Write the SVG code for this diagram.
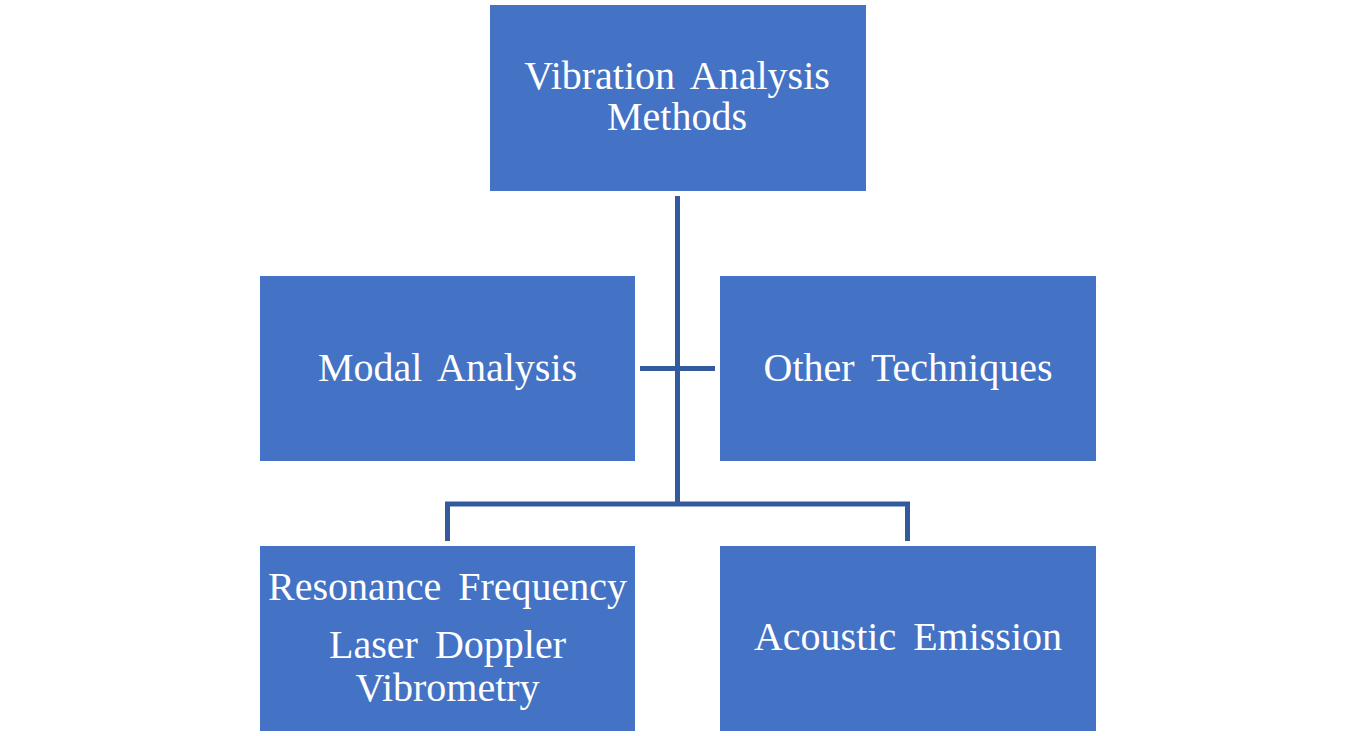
<svg xmlns="http://www.w3.org/2000/svg" width="1354" height="736" viewBox="0 0 1354 736">
<style>
.box{fill:#4472C4}
.t{font-family:"Liberation Serif","Times New Roman",serif;font-size:40px;word-spacing:7px;fill:#fff;text-anchor:middle}
.c{stroke:#335A9C;stroke-width:5;fill:none}
</style>
<rect width="1354" height="736" fill="#fff"/>
<g id="connectors">
<path class="c" d="M677.5,196 V506"/>
<path class="c" d="M640,368.5 H715"/>
<path class="c" d="M447.5,541 V504 H907.5 V541"/>
</g>
<g id="root"><rect class="box" x="490" y="5" width="376" height="186"/>
<text class="t" x="677" y="89">Vibration Analysis</text>
<text class="t" x="677" y="130">Methods</text></g>
<g id="modal"><rect class="box" x="260" y="276" width="375" height="185"/>
<text class="t" x="447.5" y="381">Modal Analysis</text></g>
<g id="other"><rect class="box" x="720" y="276" width="376" height="185"/>
<text class="t" x="908" y="381">Other Techniques</text></g>
<g id="resonance"><rect class="box" x="260" y="546" width="375" height="185"/>
<text class="t" x="447.5" y="600">Resonance Frequency</text>
<text class="t" x="447.5" y="658">Laser Doppler</text>
<text class="t" x="447.5" y="701">Vibrometry</text></g>
<g id="acoustic"><rect class="box" x="720" y="546" width="376" height="185"/>
<text class="t" x="908" y="650">Acoustic Emission</text></g>
</svg>
